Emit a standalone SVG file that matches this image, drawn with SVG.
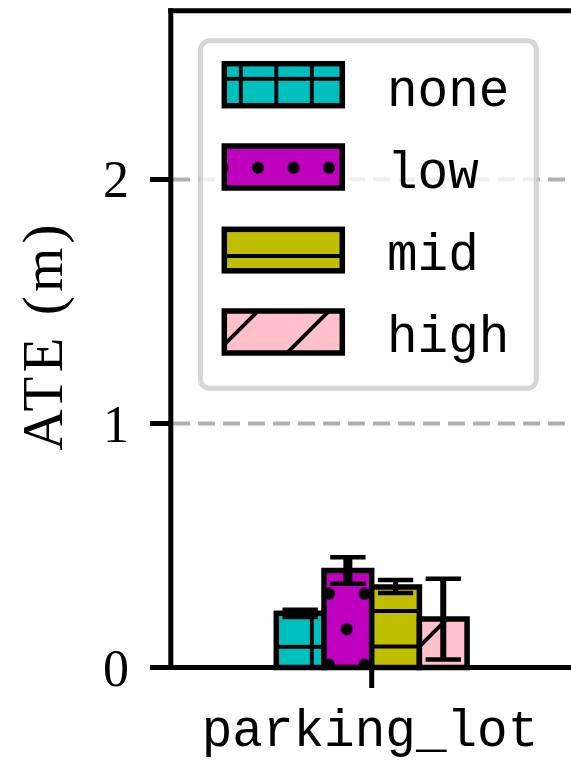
<svg xmlns="http://www.w3.org/2000/svg" width="571" height="762" viewBox="0 0 571 762">
<style>
.spine{stroke:#000;stroke-width:5;fill:none;stroke-linecap:square}
.tick{stroke:#000;stroke-width:5;fill:none}
.grid{stroke:#b0b0b0;stroke-width:4;stroke-dasharray:17 8;fill:none}
.edge{stroke:#000;stroke-width:5.5}
.err{stroke:#000;fill:none}
.cap{stroke-width:4.5}
.num{font-family:"Liberation Serif","Times New Roman",serif;font-size:52px;fill:#000}
.lab{font-family:"Liberation Serif","Times New Roman",serif;font-size:57px;fill:#000}
.mono{font-family:"Liberation Mono","Courier New",monospace;font-size:51px;fill:#000}
</style>
<defs>
<pattern id="p-plus" patternUnits="userSpaceOnUse" x="27.8" y="7.8" width="35.5" height="35.5">
<path d="M0,-2V37.5M35.5,-2V37.5M-2,0H37.5M-2,35.5H37.5" stroke="#000" stroke-width="3.8"/>
</pattern>
<pattern id="p-dots" patternUnits="userSpaceOnUse" x="9.5" y="25.7" width="35.5" height="71">
<circle cx="0" cy="0" r="6"/><circle cx="35.5" cy="0" r="6"/><circle cx="0" cy="71" r="6"/><circle cx="35.5" cy="71" r="6"/><circle cx="17.75" cy="35.5" r="6"/>
</pattern>
<pattern id="p-hline" patternUnits="userSpaceOnUse" x="0" y="7.5" width="35.5" height="35.5">
<path d="M-2,0H37.5M-2,35.5H37.5" stroke="#000" stroke-width="3.8"/>
</pattern>
<pattern id="p-diag" patternUnits="userSpaceOnUse" x="1" y="0" width="71" height="71">
<path d="M-5,5L5,-5M-5,76L76,-5M66,76L76,66" stroke="#000" stroke-width="3.8"/>
</pattern>
</defs>
<rect width="571" height="762" fill="#fff"/>

<g id="grid">
<line class="grid" x1="173" y1="179.5" x2="571" y2="179.5"/>
<line class="grid" x1="173" y1="423.5" x2="571" y2="423.5"/>
</g>

<g id="bar-none">
<rect x="276.3" y="613.3" width="47.7" height="54.2" fill="#00bfbf"/>
<rect class="edge" x="276.3" y="613.3" width="47.7" height="54.2" fill="url(#p-plus)"/>
</g>
<g id="bar-low">
<rect x="324" y="570.5" width="47.7" height="97" fill="#bf00bf"/>
<rect class="edge" x="324" y="570.5" width="47.7" height="97" fill="url(#p-dots)"/>
</g>
<g id="bar-mid">
<rect x="371.7" y="587" width="47.7" height="80.5" fill="#bfbf00"/>
<rect class="edge" x="371.7" y="587" width="47.7" height="80.5" fill="url(#p-hline)"/>
</g>
<g id="bar-high">
<rect x="419.4" y="619" width="47.7" height="48.5" fill="#ffc0cb"/>
<rect class="edge" x="419.4" y="619" width="47.7" height="48.5" fill="url(#p-diag)"/>
</g>

<g id="errorbars">
<path class="err" stroke-width="5" d="M300.15,609.7V617"/>
<path class="err cap" d="M282.5,609.7H317.8M282.5,617H317.8"/>
<path class="err" stroke-width="9" d="M347.85,557.2V583.8"/>
<path class="err cap" d="M330.2,557.2H365.5M330.2,583.8H365.5"/>
<path class="err" stroke-width="5" d="M395.55,580V593"/>
<path class="err cap" d="M377.9,580H413.2M377.9,593H413.2"/>
<path class="err" stroke-width="6" d="M443.25,578.8V659.5"/>
<path class="err cap" d="M425.6,578.8H460.9M425.6,659.5H460.9"/>
</g>

<g id="axes">
<line class="spine" x1="170.8" y1="10.8" x2="170.8" y2="667.5"/>
<line class="spine" x1="170.8" y1="10.8" x2="575" y2="10.8"/>
<line class="spine" x1="170.8" y1="667.5" x2="575" y2="667.5"/>
<line class="tick" x1="150" y1="179.5" x2="172" y2="179.5"/>
<line class="tick" x1="150" y1="423.5" x2="172" y2="423.5"/>
<line class="tick" x1="150" y1="667.5" x2="172" y2="667.5"/>
<line class="tick" x1="371.7" y1="667.5" x2="371.7" y2="688"/>
<text class="num" x="129" y="197" text-anchor="end">2</text>
<text class="num" x="129" y="441.5" text-anchor="end">1</text>
<text class="num" x="129" y="685.5" text-anchor="end">0</text>
<text class="mono" x="370" y="746" text-anchor="middle" font-size="50">parking_lot</text>
<text class="lab" transform="translate(61.5,337.5) rotate(-90)" x="0" y="0" text-anchor="middle" textLength="226" lengthAdjust="spacing">ATE (m)</text>
</g>

<g id="legend">
<rect x="200.5" y="40.8" width="335.8" height="347.5" rx="9" fill="#fff" fill-opacity="0.8" stroke="#cccccc" stroke-opacity="0.8" stroke-width="5"/>
<g id="legend-none">
<rect x="224.3" y="63.7" width="118" height="42" fill="#00bfbf"/>
<rect class="edge" x="224.3" y="63.7" width="118" height="42" fill="url(#p-plus)"/>
<text class="mono" x="387" y="105.7">none</text>
</g>
<g id="legend-low">
<rect x="224.3" y="146" width="118" height="42" fill="#bf00bf"/>
<rect class="edge" x="224.3" y="146" width="118" height="42" fill="url(#p-dots)"/>
<text class="mono" x="387" y="188.3">low</text>
</g>
<g id="legend-mid">
<rect x="224.3" y="229.3" width="118" height="41.5" fill="#bfbf00"/>
<rect class="edge" x="224.3" y="229.3" width="118" height="41.5" fill="url(#p-hline)"/>
<text class="mono" x="387" y="270">mid</text>
</g>
<g id="legend-high">
<rect x="224.3" y="311" width="118" height="42" fill="#ffc0cb"/>
<rect class="edge" x="224.3" y="311" width="118" height="42" fill="url(#p-diag)"/>
<text class="mono" x="387" y="351.7">high</text>
</g>
</g>
</svg>
